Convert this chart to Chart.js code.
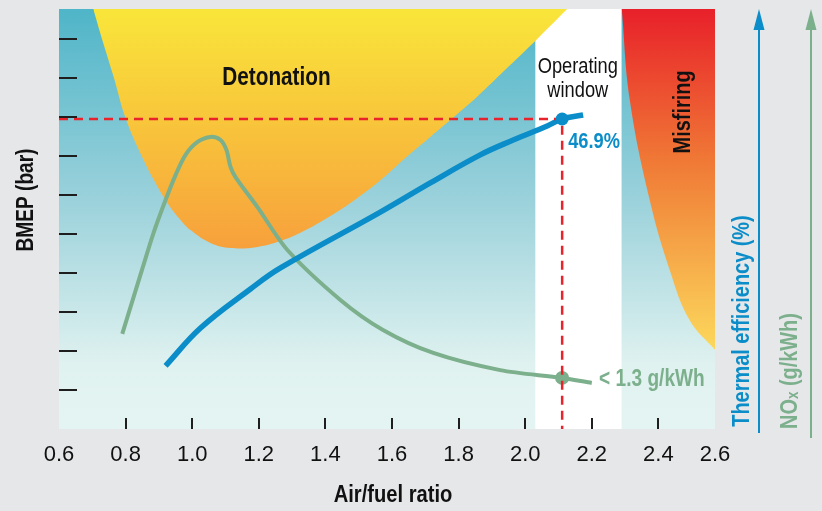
<!DOCTYPE html>
<html>
<head>
<meta charset="utf-8">
<script src="https://cdn.jsdelivr.net/npm/chart.js@4.4.0/dist/chart.umd.min.js"></script>
<style>
  html, body { margin: 0; padding: 0; background: #e6e7e9; }
</style>
</head>
<body>
<canvas id="chart" width="822" height="511"></canvas>
<script>
// axis ticks (last x tick sits on the right edge, labelled 2.6)
const xTickValues = [0.6, 0.8, 1.0, 1.2, 1.4, 1.6, 1.8, 2.0, 2.2, 2.4, 2.57]
const xTickLabels = ['0.6', '0.8', '1.0', '1.2', '1.4', '1.6', '1.8', '2.0', '2.2', '2.4', '2.6']
const bmepTicks = [1, 2, 3, 4, 5, 6, 7, 8, 9, 10]
const bmepMax = 10.77

// thermal efficiency curve
const effX = [0.92, 1.025, 1.175, 1.265, 1.565, 1.715, 1.865, 1.964, 2.066, 2.111, 2.174]
const effY = [1.62, 2.59, 3.59, 4.13, 5.56, 6.31, 7.03, 7.41, 7.77, 7.95, 8.05]

// NOx curve
const noxX = [0.79, 0.851, 0.884, 0.92, 0.95, 0.98, 1.016, 1.055, 1.085, 1.103, 1.115, 1.13, 1.196, 1.286, 1.445, 1.573, 1.724, 1.925, 2.111, 2.2]
const noxY = [2.44, 4.13, 5.03, 5.87, 6.51, 7.03, 7.36, 7.49, 7.41, 7.15, 6.72, 6.46, 5.69, 4.59, 3.31, 2.54, 1.95, 1.51, 1.31, 1.18]

// detonation boundary (filled up to the top)
const detX = [0.703, 0.724, 0.764, 0.80, 0.854, 0.89, 0.926, 0.965, 0.995, 1.055, 1.115, 1.196, 1.265, 1.325, 1.415, 1.495, 1.565, 1.64, 1.715, 1.79, 1.858, 1.94, 2.024, 2.126]
const detY = [10.77, 10.15, 9.03, 7.97, 6.90, 6.31, 5.79, 5.36, 5.10, 4.77, 4.64, 4.67, 4.82, 5.03, 5.46, 5.92, 6.38, 6.95, 7.49, 8.03, 8.54, 9.21, 9.90, 10.77]

// misfiring boundary (filled up to the top)
const misX = [2.29, 2.314, 2.374, 2.434, 2.494, 2.57]
const misY = [10.77, 8.44, 5.87, 4.08, 2.79, 2.03]

// operating window
const winX = [2.03, 2.29]

// operating point
const opX = 2.111
const opEff = 7.95
const opNox = 1.31

const FONT = "'Liberation Sans', Arial, sans-serif"
const NARROW = 0.83
const blue = '#0a8dc8'
const green = '#7caf8c'
const red = '#e8232b'

function pts(xs, ys) {
    return xs.map((x, i) => ({ x: x, y: ys[i] }))
}

function vGrad(chart, stops, v0, v1) {
    const y = chart.scales.y
    const g = chart.ctx.createLinearGradient(0, y.getPixelForValue(v0), 0, y.getPixelForValue(v1))
    stops.forEach(s => g.addColorStop(s[0], s[1]))
    return g
}

// condensed-looking text: squeeze along the text direction
function text(ctx, str, x, y, font, color, align, rot, squeeze) {
    ctx.save()
    ctx.translate(x, y)
    if (rot) ctx.rotate(rot)
    ctx.scale(squeeze || NARROW, 1)
    ctx.font = font
    ctx.fillStyle = color
    ctx.textAlign = align || 'center'
    ctx.textBaseline = 'middle'
    ctx.fillText(str, 0, 0)
    ctx.restore()
}

function arrow(ctx, x, y0, y1, color) {
    ctx.save()
    ctx.strokeStyle = color
    ctx.fillStyle = color
    ctx.lineWidth = 2
    ctx.beginPath()
    ctx.moveTo(x, y0)
    ctx.lineTo(x, y1 + 12)
    ctx.stroke()
    ctx.beginPath()
    ctx.moveTo(x, y1)
    ctx.lineTo(x - 5.5, y1 + 21)
    ctx.lineTo(x + 5.5, y1 + 21)
    ctx.closePath()
    ctx.fill()
    ctx.restore()
}

const decor = {
    id: 'decor',
    beforeDraw(chart) {
        const { ctx, chartArea: a } = chart
        ctx.save()
        ctx.fillStyle = '#e6e7e9'
        ctx.fillRect(0, 0, chart.width, chart.height)
        ctx.fillStyle = vGrad(chart, [[0, '#4fb5c8'], [0.45, '#9ad1db'], [0.85, '#e0f2f0'], [1, '#e4f4f2']], bmepMax, 0)
        ctx.fillRect(a.left, a.top, a.right - a.left, a.bottom - a.top)
        ctx.restore()
    },
    afterDatasetsDraw(chart) {
        const { ctx, chartArea: a, scales: { x, y } } = chart
        ctx.save()
        ctx.strokeStyle = '#1e1e1e'
        ctx.lineWidth = 2
        bmepTicks.forEach(v => {
            const py = Math.round(y.getPixelForValue(v))
            ctx.beginPath()
            ctx.moveTo(a.left, py)
            ctx.lineTo(a.left + 18, py)
            ctx.stroke()
        })
        xTickValues.slice(1, -1).forEach(v => {
            const px = Math.round(x.getPixelForValue(v))
            ctx.beginPath()
            ctx.moveTo(px, a.bottom)
            ctx.lineTo(px, a.bottom - 11)
            ctx.stroke()
        })
        ctx.restore()

        text(ctx, 'Detonation', x.getPixelForValue(1.253), y.getPixelForValue(9.0), 'bold 25px ' + FONT, '#111')
        text(ctx, 'Operating', x.getPixelForValue(2.158), y.getPixelForValue(9.28), '22px ' + FONT, '#111')
        text(ctx, 'window', x.getPixelForValue(2.158), y.getPixelForValue(8.67), '22px ' + FONT, '#111')
        text(ctx, 'Misfiring', x.getPixelForValue(2.474), y.getPixelForValue(8.13), 'bold 24px ' + FONT, '#111', 'center', -Math.PI / 2)
        text(ctx, '46.9%', x.getPixelForValue(2.129), y.getPixelForValue(7.36), 'bold 22px ' + FONT, blue, 'left')
        text(ctx, '< 1.3 g/kWh', x.getPixelForValue(2.222), y.getPixelForValue(1.26), 'bold 23px ' + FONT, green, 'left')
    },
    afterDraw(chart) {
        const { ctx, chartArea: a } = chart
        text(ctx, 'BMEP (bar)', a.left - 32, a.top + 191, 'bold 23px ' + FONT, '#111', 'center', -Math.PI / 2)
        text(ctx, 'Air/fuel ratio', (a.left + a.right) / 2 + 6, a.bottom + 66, 'bold 24px ' + FONT, '#111', 'center', 0, 0.84)

        arrow(ctx, a.right + 44, a.bottom + 4, a.top, blue)
        arrow(ctx, a.right + 96, a.bottom + 9, a.top, green)
        text(ctx, 'Thermal efficiency (%)', a.right + 27, a.top + 312, 'bold 24px ' + FONT, blue, 'center', -Math.PI / 2)

        // NOx with subscript x
        ctx.save()
        ctx.translate(a.right + 75, a.top + 362)
        ctx.rotate(-Math.PI / 2)
        ctx.scale(NARROW, 1)
        ctx.fillStyle = green
        ctx.textBaseline = 'middle'
        const big = 'bold 24px ' + FONT
        const small = 'bold 16px ' + FONT
        ctx.font = big
        const wNO = ctx.measureText('NO').width
        const wRest = ctx.measureText(' (g/kWh)').width
        ctx.font = small
        const wx = ctx.measureText('x').width
        let sx = -(wNO + wx + wRest) / 2
        ctx.font = big
        ctx.fillText('NO', sx, 0)
        sx += wNO
        ctx.font = small
        ctx.fillText('x', sx, 4)
        sx += wx
        ctx.font = big
        ctx.fillText(' (g/kWh)', sx, 0)
        ctx.restore()
    }
}

const ctx = document.getElementById('chart')

new Chart(ctx, {
    type: 'line',
    data: {
        datasets: [{
            label: 'Thermal efficiency point',
            data: [{ x: opX, y: opEff }],
            showLine: false,
            pointRadius: 6.5,
            pointBackgroundColor: blue,
            pointBorderWidth: 0,
            order: 0
        }, {
            label: 'Operating point guide',
            data: [{ x: xTickValues[0], y: opEff }, { x: opX, y: opEff }, { x: opX, y: 0 }],
            borderColor: red,
            borderWidth: 2.5,
            borderDash: [9, 6],
            pointRadius: 0,
            tension: 0,
            order: 1
        }, {
            label: 'NOx point',
            data: [{ x: opX, y: opNox }],
            showLine: false,
            pointRadius: 7,
            pointBackgroundColor: green,
            pointBorderWidth: 0,
            order: 2
        }, {
            label: 'Thermal efficiency',
            data: pts(effX, effY),
            borderColor: blue,
            borderWidth: 5.5,
            pointRadius: 0,
            tension: 0.4,
            borderCapStyle: 'butt',
            order: 3
        }, {
            label: 'NOx',
            data: pts(noxX, noxY),
            borderColor: green,
            borderWidth: 4,
            pointRadius: 0,
            tension: 0.3,
            order: 4
        }, {
            label: 'Detonation',
            data: pts(detX, detY),
            borderWidth: 0,
            pointRadius: 0,
            tension: 0.4,
            fill: 'end',
            backgroundColor: c => c.chart.chartArea ? vGrad(c.chart, [[0, '#f9e63a'], [1, '#f7a03c']], bmepMax, 4.6) : '#f7c03a',
            order: 5
        }, {
            label: 'Misfiring',
            data: pts(misX, misY),
            borderWidth: 0,
            pointRadius: 0,
            tension: 0.4,
            fill: 'end',
            backgroundColor: c => c.chart.chartArea ? vGrad(c.chart, [[0, '#e8202a'], [0.45, '#f07a36'], [1, '#fcd95c']], bmepMax, 2.0) : '#f07a36',
            order: 6
        }, {
            label: 'Operating window',
            data: winX.map(v => ({ x: v, y: bmepMax })),
            borderWidth: 0,
            pointRadius: 0,
            fill: 'start',
            backgroundColor: '#ffffff',
            order: 7
        }]
    },
    options: {
        responsive: false,
        animation: false,
        layout: { padding: { left: 59, right: 107, top: 9, bottom: 0 } },
        plugins: {
            legend: { display: false },
            tooltip: { enabled: false }
        },
        scales: {
            x: {
                type: 'linear',
                min: xTickValues[0],
                max: xTickValues[xTickValues.length - 1],
                afterBuildTicks: axis => {
                    axis.ticks = xTickValues.map(v => ({ value: v }))
                },
                afterFit: axis => {
                    axis.height = 82
                },
                grid: { display: false, drawTicks: false },
                border: { display: false },
                ticks: {
                    autoSkip: false,
                    maxRotation: 0,
                    padding: 13,
                    color: '#111',
                    font: { family: FONT, size: 22 },
                    callback: (v, i) => xTickLabels[i]
                }
            },
            y: {
                display: false,
                min: 0,
                max: bmepMax
            }
        }
    },
    plugins: [decor]
})
</script>
</body>
</html>
